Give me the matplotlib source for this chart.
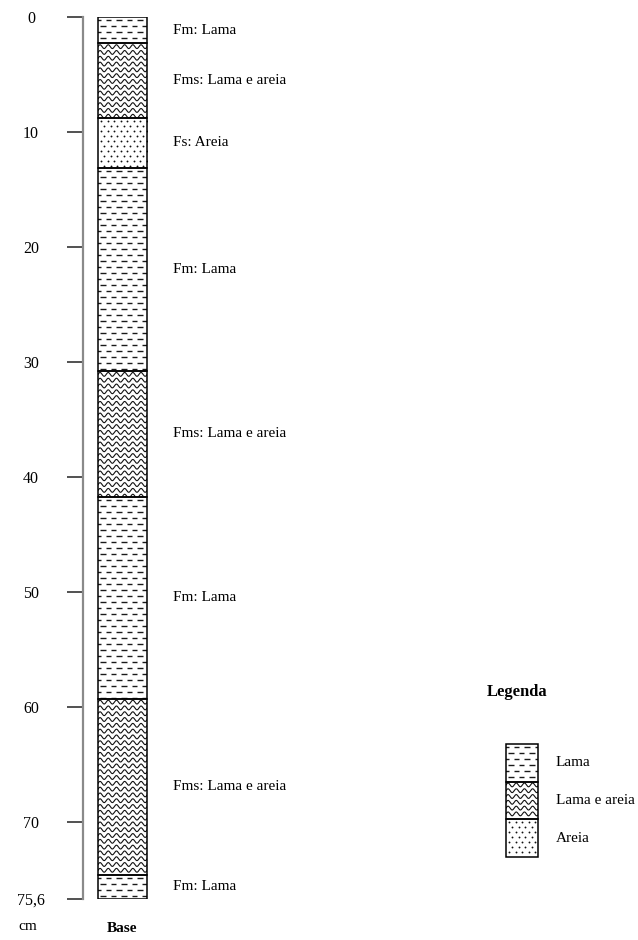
import numpy as np
import matplotlib
matplotlib.use('Agg')
import matplotlib.pyplot as plt
from matplotlib.patches import Rectangle
from matplotlib.collections import LineCollection

plt.rcParams['font.family'] = ['Liberation Serif', 'DejaVu Serif']

# perfil: topo de cada camada (cm, na escala do desenho)
layer_tops = [0, 2.3, 8.8, 13.1, 30.8, 41.7, 59.3, 74.6]
base_pos = 76.7  # posição desenhada da base (75,6 cm)
layer_codes = ['Fm', 'Fms', 'Fs', 'Fm', 'Fms', 'Fm', 'Fms', 'Fm']
layer_types = ['Lama', 'Lama e areia', 'Areia', 'Lama', 'Lama e areia',
               'Lama', 'Lama e areia', 'Lama']
tick_values = [0, 10, 20, 30, 40, 50, 60, 70, base_pos]
tick_labels = ['0', '10', '20', '30', '40', '50', '60', '70', '75,6']
legend_items = ['Lama', 'Lama e areia', 'Areia']

W, H, DPI = 638, 940, 100
PX_PER_CM = 11.5


def draw_texture(ax, kind, x0, x1, y0, y1, py):
    """Desenha uma caixa com textura litológica. py = pixels por unidade de y."""
    bg = Rectangle((x0, y0), x1 - x0, y1 - y0, facecolor='white',
                   edgecolor='none', zorder=2)
    ax.add_patch(bg)
    frame = Rectangle((x0, y0), x1 - x0, y1 - y0, facecolor='none',
                      edgecolor='black', lw=1.1, zorder=4)
    ax.add_patch(frame)
    if kind == 'Lama':
        segs = []
        y = y0 + 3.0 / py
        i = 0
        while y < y1:
            x = x0 - 3 + (5 if i % 2 else 0)
            while x < x1:
                segs.append([(x, y), (x + 5.5, y)])
                x += 10.5
            y += 6.0 / py
            i += 1
        lc = LineCollection(segs, colors='#1a1a1a', linewidths=1.0, zorder=3)
        ax.add_collection(lc)
        lc.set_clip_path(bg)
    elif kind == 'Lama e areia':
        xs = np.linspace(x0, x1, 300)
        y = y0 + 3.2 / py
        while y < y1:
            ys = y - 1.9 * np.sin(2 * np.pi * (xs - x0) / 8.2) / py
            ln, = ax.plot(xs, ys, color='#111111', lw=0.8, zorder=3)
            ln.set_clip_path(bg)
            y += 5.8 / py
    elif kind == 'Areia':
        px, py_ = [], []
        y = y0 + 3.0 / py
        i = 0
        while y < y1:
            x = x0 + 3 + (3 if i % 2 else 0)
            while x < x1:
                px.append(x)
                py_.append(y)
                x += 6.5
            y += 5.0 / py
            i += 1
        sc = ax.scatter(px, py_, s=1.8, color='#111111', linewidths=0, zorder=3)
        sc.set_clip_path(bg)


fig = plt.figure(figsize=(W / DPI, H / DPI), dpi=DPI)

# camada de fundo em pixels (legenda e textos soltos)
over = fig.add_axes([0, 0, 1, 1])
over.set_xlim(0, W)
over.set_ylim(H, 0)
over.axis('off')

# eixo principal: x em pixels, y em cm
ax_left, ax_top, ax_bottom = 83, 17, 899
ax = fig.add_axes([ax_left / W, 1 - ax_bottom / H, (W - ax_left) / W,
                   (ax_bottom - ax_top) / H])
ax.set_facecolor('none')
ax.set_xlim(ax_left, W)
ax.set_ylim(base_pos, 0)
for s in ['top', 'right', 'bottom']:
    ax.spines[s].set_visible(False)
ax.spines['left'].set_color('#8a8a8a')
ax.spines['left'].set_linewidth(1.6)
ax.set_xticks([])
ax.set_yticks(tick_values)
ax.set_yticklabels(tick_labels, fontsize=11.5, ha='center')
ax.tick_params(axis='y', length=11.5, width=1.1, color='#222222', pad=26)

layer_bottoms = layer_tops[1:] + [base_pos]
for top, bot, code, kind in zip(layer_tops, layer_bottoms, layer_codes, layer_types):
    draw_texture(ax, kind, 98, 147, top, bot, PX_PER_CM)
    ax.text(173, (top + bot) / 2, f'{code}: {kind}', fontsize=11,
            ha='left', va='center')

over.text(28, 926, 'cm', fontsize=11, ha='center', va='center')
over.text(122, 928, 'Base', fontsize=11, fontweight='bold', ha='center', va='center')

# legenda
over.text(487, 692, 'Legenda', fontsize=12, fontweight='bold', ha='left', va='center')
cell_h = 37.7
for i, item in enumerate(legend_items):
    y0 = 744 + i * cell_h
    draw_texture(over, item, 506, 538, y0, y0 + cell_h, 1.0)
    over.text(556, y0 + cell_h / 2, item, fontsize=11, ha='left', va='center')

fig.savefig('out.png', dpi=DPI)
